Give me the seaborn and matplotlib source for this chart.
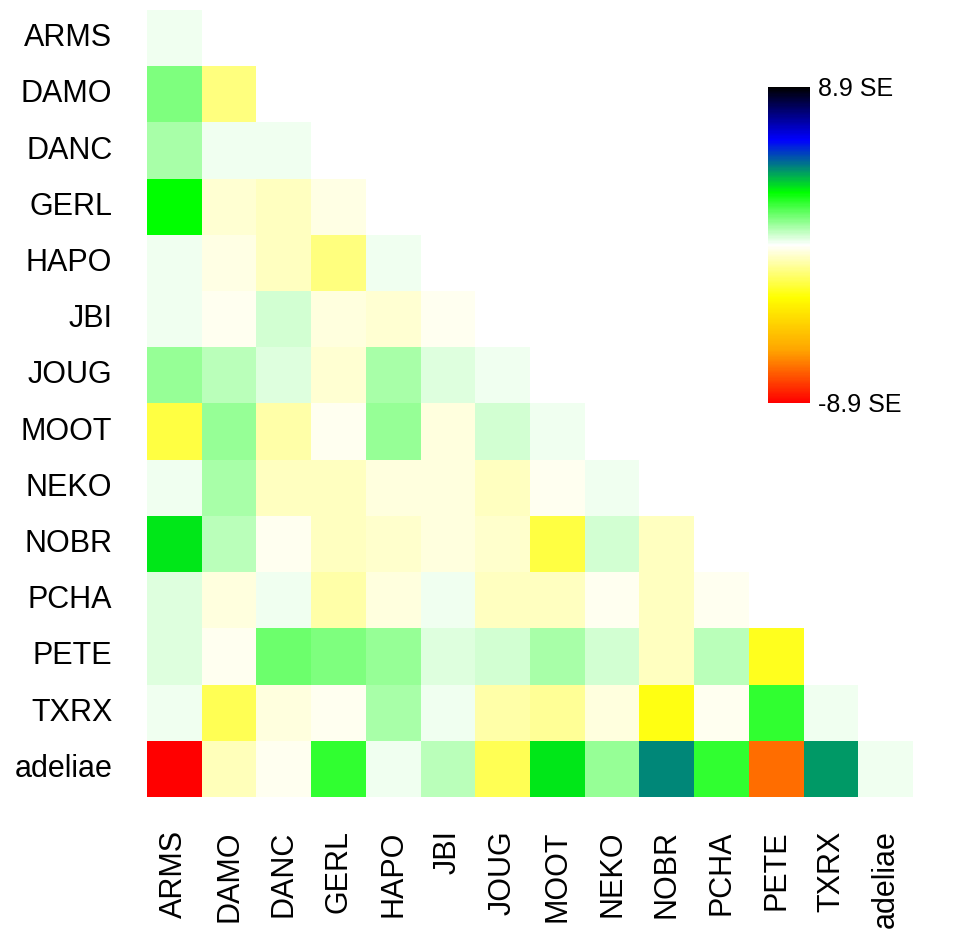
import numpy as np
import pandas as pd
import seaborn as sns
import matplotlib
matplotlib.use("Agg")
import matplotlib.pyplot as plt
from matplotlib.colors import LinearSegmentedColormap

sns.set_style("white")
plt.rcParams["font.family"] = ["Liberation Sans", "DejaVu Sans"]

pops = ["ARMS", "DAMO", "DANC", "GERL", "HAPO", "JBI", "JOUG",
        "MOOT", "NEKO", "NOBR", "PCHA", "PETE", "TXRX", "adeliae"]

# Standardised residual covariance (in SE units), lower triangle by row
res_ARMS = [0.14]
res_DAMO = [1.48, -1.48]
res_DANC = [1.04, 0.14, 0.14]
res_GERL = [2.97, -0.55, -0.73, -0.29]
res_HAPO = [0.14, -0.29, -0.73, -1.48, 0.14]
res_JBI = [0.14, -0.14, 0.55, -0.35, -0.55, -0.14]
res_JOUG = [1.19, 0.79, 0.40, -0.55, 1.04, 0.40, 0.14]
res_MOOT = [-2.22, 1.19, -1.04, -0.14, 1.19, -0.40, 0.55, 0.14]
res_NEKO = [0.14, 1.04, -0.73, -0.73, -0.40, -0.40, -0.73, -0.14, 0.14]
res_NOBR = [3.26, 0.79, -0.14, -0.73, -0.60, -0.40, -0.60, -2.22, 0.55, -0.73]
res_PCHA = [0.40, -0.40, 0.14, -1.00, -0.40, 0.14, -0.73, -0.73, -0.14, -0.73, -0.14]
res_PETE = [0.40, -0.14, 1.69, 1.48, 1.25, 0.40, 0.55, 1.04, 0.55, -0.73, 0.79, -2.60]
res_TXRX = [0.14, -1.98, -0.40, -0.14, 1.04, 0.14, -1.00, -1.19, -0.40, -2.78, -0.14, 2.37, 0.14]
res_adel = [-8.90, -0.79, -0.14, 2.37, 0.14, 0.79, -1.98, 3.26, 1.25, 4.35, 2.37, -6.92, 4.15, 0.14]

rows = [res_ARMS, res_DAMO, res_DANC, res_GERL, res_HAPO, res_JBI, res_JOUG,
        res_MOOT, res_NEKO, res_NOBR, res_PCHA, res_PETE, res_TXRX, res_adel]

se_max = 8.9

n = len(pops)
mat = np.full((n, n), np.nan)
for i, r in enumerate(rows):
    mat[i, :len(r)] = r
df = pd.DataFrame(mat, index=pops, columns=pops)
mask = np.triu(np.ones((n, n), dtype=bool), k=1)

cmap = LinearSegmentedColormap.from_list(
    "resid", ["red", "orange", "yellow", "white", "#00ff00", "blue", "black"], N=256)

W, H = 972, 935
fig = plt.figure(figsize=(W / 100, H / 100), dpi=100)
ax = fig.add_axes([147 / W, 1 - 797 / H, 766 / W, 787 / H])
cax = fig.add_axes([768 / W, 1 - 403 / H, 42 / W, 316 / H])

sns.heatmap(df, mask=mask, cmap=cmap, vmin=-se_max, vmax=se_max,
            ax=ax, cbar=True, cbar_ax=cax, square=False,
            linewidths=0, xticklabels=True, yticklabels=True)

ax.tick_params(axis="both", length=0, labelsize=22, labelcolor="black")
ax.tick_params(axis="y", pad=25)
ax.tick_params(axis="x", pad=24)
ax.set_xticklabels(pops, rotation=90, va="top")
ax.set_yticklabels(pops, rotation=0, ha="right")
ax.set_xlabel("")
ax.set_ylabel("")
for s in ax.spines.values():
    s.set_visible(False)

cb = ax.collections[0].colorbar
cb.set_ticks([-se_max, se_max])
cb.set_ticklabels([f"-{se_max} SE", f"{se_max} SE"])
cb.outline.set_visible(False)
cax.tick_params(length=0, labelsize=18, labelcolor="black", pad=6)

fig.savefig("out.png", dpi=100, facecolor="white")
